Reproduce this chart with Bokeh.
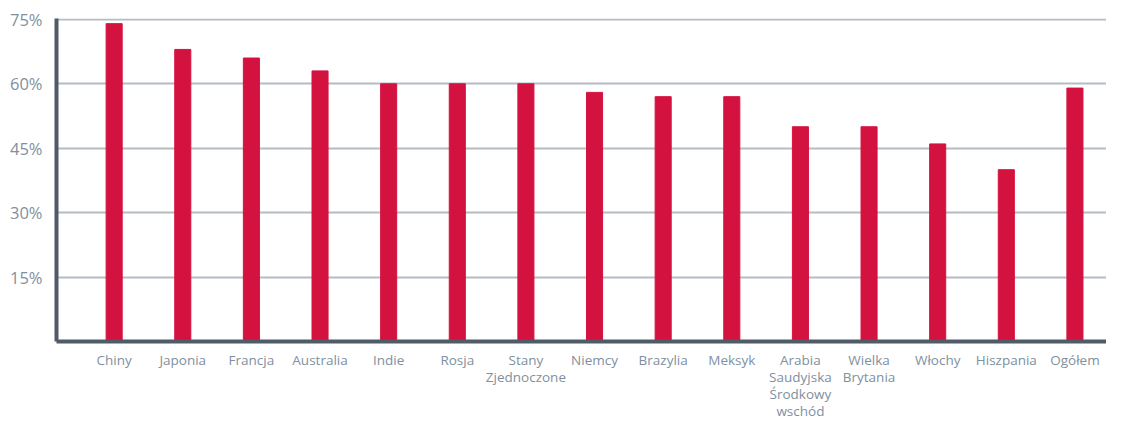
from bokeh.plotting import figure
from bokeh.models import Range1d, FixedTicker
from bokeh.embed import file_html
from bokeh.resources import INLINE

categories = ["Chiny", "Japonia", "Francja", "Australia", "Indie", "Rosja",
              "Stany\nZjednoczone", "Niemcy", "Brazylia", "Meksyk",
              "Arabia\nSaudyjska\nŚrodkowy\nwschód", "Wielka\nBrytania",
              "Włochy", "Hiszpania", "Ogółem"]
values = [74, 68, 66, 63, 60, 60, 60, 58, 57, 57, 50, 50, 46, 40, 59]
y_ticks = [15, 30, 45, 60, 75]
y_tick_labels = ["15%", "30%", "45%", "60%", "75%"]

xs = list(range(len(categories)))

p = figure(width=1106, height=422, output_backend="svg", toolbar_location=None,
           x_range=Range1d(-0.84, 14.46), y_range=Range1d(0, 75.2),
           min_border_left=56, min_border_top=18, min_border_right=0,
           min_border_bottom=20)
p.outline_line_color = None

p.vbar(x=xs, top=values, width=0.234, bottom=0, color="#d4123f")

label_color = "#8090a0"

p.xaxis.ticker = FixedTicker(ticks=xs)
p.xaxis.major_label_overrides = {i: c for i, c in zip(xs, categories)}
p.xaxis.axis_line_color = "#4f5b66"
p.xaxis.axis_line_width = 4
p.xaxis.major_tick_line_color = None
p.xaxis.minor_tick_line_color = None
p.xaxis.major_tick_in = 0
p.xaxis.major_tick_out = 0
p.xaxis.minor_tick_in = 0
p.xaxis.minor_tick_out = 0
p.xaxis.axis_label_standoff = 0
p.xaxis.major_label_text_font = "Open Sans"
p.xaxis.major_label_text_font_size = "13.5px"
p.xaxis.major_label_text_line_height = 0.95
p.xaxis.major_label_text_color = label_color
p.xaxis.major_label_standoff = 9

p.yaxis.ticker = FixedTicker(ticks=y_ticks)
p.yaxis.major_label_overrides = {t: l for t, l in zip(y_ticks, y_tick_labels)}
p.yaxis.axis_line_color = "#4f5b66"
p.yaxis.axis_line_width = 4
p.yaxis.major_tick_line_color = None
p.yaxis.minor_tick_line_color = None
p.yaxis.major_tick_in = 0
p.yaxis.major_tick_out = 0
p.yaxis.minor_tick_in = 0
p.yaxis.minor_tick_out = 0
p.yaxis.major_label_text_font = "Open Sans"
p.yaxis.major_label_text_font_size = "16.5px"
p.yaxis.major_label_text_color = label_color
p.yaxis.major_label_standoff = 14

p.xgrid.grid_line_color = None
p.ygrid.ticker = FixedTicker(ticks=y_ticks)
p.ygrid.grid_line_color = "#b4bcc4"
p.ygrid.grid_line_width = 2

open("out.html", "w").write(file_html(p, INLINE))
